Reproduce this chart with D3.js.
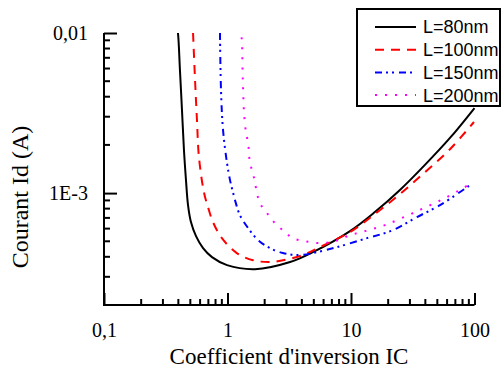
<!DOCTYPE html>
<html><head><meta charset="utf-8">
<script src="https://cdn.jsdelivr.net/npm/d3@7"></script>
<style>html,body{margin:0;padding:0;background:#fff;}svg{display:block;}</style>
</head><body>
<svg id="c" width="502" height="370"></svg>
<script>
const seriesNames = ["L=80nm", "L=100nm", "L=150nm", "L=200nm"];
const seriesColors = ["#000000", "#ff0000", "#0000ff", "#ff00ff"];
const ic80 = [0.385, 0.397, 0.412, 0.428, 0.444, 0.461, 0.479, 0.506, 0.556, 0.634, 0.749, 0.991, 1.67, 3.21, 4.92, 9.82, 15.6, 24.9, 39.7, 63.3, 100];
const id80 = [0.0115, 0.01, 5.87e-3, 3.30e-3, 1.86e-3, 1.21e-3, 8.41e-4, 6.59e-4, 5.38e-4, 4.53e-4, 3.98e-4, 3.55e-4, 3.35e-4, 3.71e-4, 4.28e-4, 5.79e-4, 7.61e-4, 1.045e-3, 1.50e-3, 2.21e-3, 3.40e-3];
const ic100 = [0.526, 0.546, 0.566, 0.587, 0.645, 0.695, 0.763, 0.901, 1.19, 1.61, 2.21, 3.09, 4.08, 5.61, 9.82, 15.6, 24.9, 39.7, 63.3, 99];
const id100 = [0.01, 5.08e-3, 2.86e-3, 1.68e-3, 1.01e-3, 8.18e-4, 6.59e-4, 5.23e-4, 4.22e-4, 3.81e-4, 3.71e-4, 3.87e-4, 4.10e-4, 4.60e-4, 5.71e-4, 7.39e-4, 9.86e-4, 1.35e-3, 1.88e-3, 2.78e-3];
const ic150 = [0.869, 0.886, 0.92, 0.991, 1.047, 1.108, 1.15, 1.26, 1.47, 1.77, 2.21, 2.81, 3.86, 5.31, 7.71, 13.5, 21.9, 34.2, 52.6, 90.2];
const id150 = [0.01, 4.40e-3, 2.48e-3, 1.54e-3, 1.21e-3, 1.01e-3, 9.04e-4, 7.29e-4, 6.04e-4, 5.08e-4, 4.53e-4, 4.22e-4, 4.10e-4, 4.28e-4, 4.60e-4, 5.23e-4, 5.87e-4, 7.08e-4, 8.41e-4, 1.11e-3];
const ic200 = [1.30, 1.31, 1.325, 1.34, 1.36, 1.41, 1.47, 1.52, 1.61, 1.67, 1.83, 2.09, 2.42, 2.92, 3.39, 4.24, 5.61, 7.42, 9.82, 13.0, 18.8, 33.0, 59.8, 86.9];
const id200 = [0.0094, 8.79e-3, 5.70e-3, 4.28e-3, 3.21e-3, 2.40e-3, 2.05e-3, 1.54e-3, 1.33e-3, 1.155e-3, 8.66e-4, 7.50e-4, 6.49e-4, 5.71e-4, 5.23e-4, 5.01e-4, 4.87e-4, 5.01e-4, 5.46e-4, 5.79e-4, 6.31e-4, 7.61e-4, 9.44e-4, 1.11e-3];
const xTickValues = [0.1, 1, 10, 100];
const xTickLabels = ["0,1", "1", "10", "100"];
const yTickValues = [0.01, 0.001];
const yTickLabels = ["0,01", "1E-3"];
const xTitle = "Coefficient d'inversion IC";
const yTitle = "Courant Id (A)";

const seriesX = [ic80, ic100, ic150, ic200];
const seriesY = [id80, id100, id150, id200];
const dashes = [null, "9,7", "7,4,2,4,2,5", "2,8"];

const svg = d3.select("#c");
const L = 104, R = 474.5, T = 33, B = 305;
const x = d3.scaleLog().domain([0.1, 100]).range([L, R]);
const y = d3.scaleLog().domain([2e-4, 0.01]).range([B, T]);

svg.append("defs").append("clipPath").attr("id", "clip")
  .append("rect").attr("x", L).attr("y", T).attr("width", R - L + 2).attr("height", B - T);

const line = d3.line().x(d => x(d[0])).y(d => y(d[1])).curve(d3.curveCatmullRom.alpha(0.5));
const g = svg.append("g").attr("clip-path", "url(#clip)");
seriesX.forEach((xs, i) => {
  const pts = xs.map((v, j) => [v, seriesY[i][j]]);
  g.append("path").datum(pts).attr("d", line)
    .attr("fill", "none").attr("stroke", seriesColors[i]).attr("stroke-width", 2)
    .attr("stroke-dasharray", dashes[i]);
});

const xMinor = [];
[0.1, 1, 10].forEach(d => { for (let k = 2; k <= 9; k++) xMinor.push(d * k); });
const yMinor = [];
[1e-4, 1e-3].forEach(d => { for (let k = 2; k <= 9; k++) yMinor.push(d * k); });

const xAxis = d3.axisBottom(x).tickValues(xTickValues).tickSizeInner(-12).tickSizeOuter(0)
  .tickFormat((d, i) => xTickLabels[i]);
const gx = svg.append("g").attr("transform", `translate(0,${B})`).call(xAxis);
gx.select(".domain").attr("stroke-width", 2).attr("d", `M${L},0H${R}`);
gx.selectAll(".tick line").attr("stroke-width", 2);
gx.selectAll(".tick text").attr("font-family", "Liberation Serif").attr("font-size", 20)
  .attr("fill", "#000").attr("dy", null).attr("y", 32);
svg.append("g").selectAll("line").data(xMinor).join("line")
  .attr("x1", d => x(d)).attr("x2", d => x(d)).attr("y1", B).attr("y2", B - 6)
  .attr("stroke", "#000").attr("stroke-width", 2);

const yAxis = d3.axisLeft(y).tickValues(yTickValues).tickSizeInner(-13).tickSizeOuter(0)
  .tickFormat((d, i) => yTickLabels[i]);
const gy = svg.append("g").attr("transform", `translate(${L},0)`).call(yAxis);
gy.select(".domain").attr("stroke-width", 2).attr("d", `M0,${B + 1}V${T}`);
gy.selectAll(".tick line").attr("stroke-width", 2);
gy.selectAll(".tick text").attr("font-family", "Liberation Serif").attr("font-size", 20)
  .attr("fill", "#000").attr("x", -16).attr("dy", "0.32em");
svg.append("g").selectAll("line").data(yMinor.filter(v => v >= 2e-4)).join("line")
  .attr("x1", L).attr("x2", L + 6).attr("y1", d => y(d)).attr("y2", d => y(d))
  .attr("stroke", "#000").attr("stroke-width", 2);

svg.append("text").attr("x", 289).attr("y", 364).attr("text-anchor", "middle")
  .attr("font-family", "Liberation Serif").attr("font-size", 23).text(xTitle);
svg.append("text").attr("transform", "translate(28,197) rotate(-90)").attr("text-anchor", "middle")
  .attr("font-family", "Liberation Serif").attr("font-size", 24).text(yTitle);

const lg = svg.append("g");
lg.append("rect").attr("x", 357).attr("y", 9).attr("width", 143).attr("height", 97)
  .attr("fill", "#fff").attr("stroke", "#000").attr("stroke-width", 2);
seriesNames.forEach((n, i) => {
  const yy = 27 + i * 22.7;
  lg.append("line").attr("x1", 375).attr("x2", 416).attr("y1", yy).attr("y2", yy)
    .attr("stroke", seriesColors[i]).attr("stroke-width", 2).attr("stroke-dasharray", dashes[i]);
  lg.append("text").attr("x", 423).attr("y", yy).attr("dy", "0.36em")
    .attr("font-family", "Liberation Sans").attr("font-size", 18).text(n);
});
</script>
</body></html>
